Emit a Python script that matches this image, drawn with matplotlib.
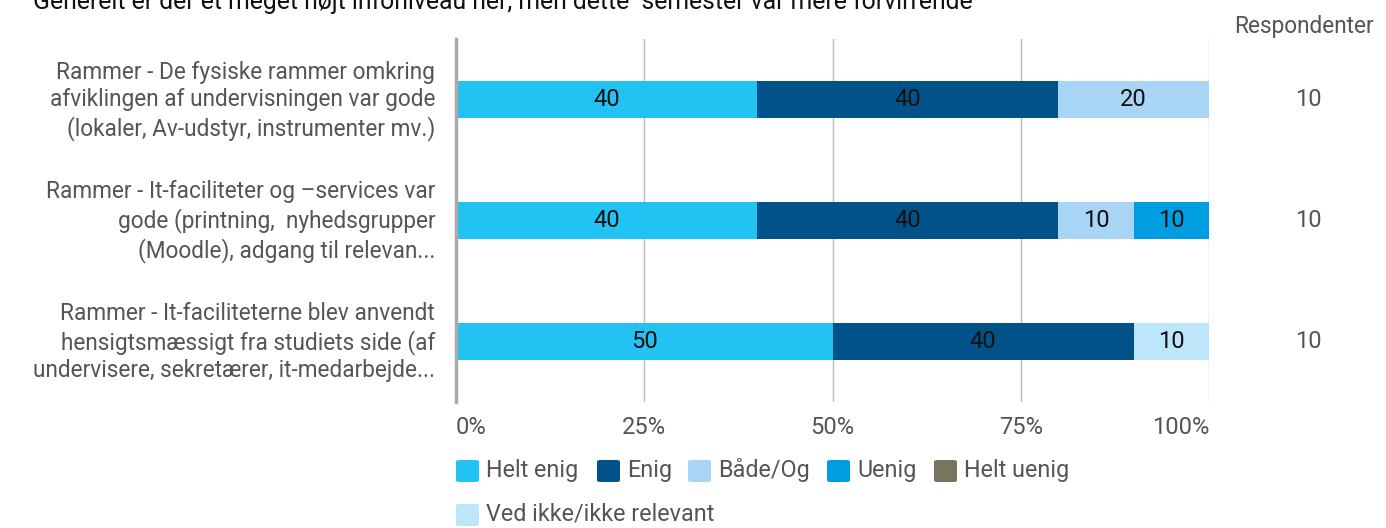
import matplotlib.pyplot as plt
import matplotlib.transforms as mtransforms
from matplotlib.patches import FancyBboxPatch
import numpy as np

plt.rcParams['font.family'] = ['Roboto', 'DejaVu Sans']

title = "Generelt er der et meget højt infoniveau her, men dette  semester var mere forvirrende"
questions = [
    "Rammer - De fysiske rammer omkring\nafviklingen af undervisningen var gode\n(lokaler, Av-udstyr, instrumenter mv.)",
    "Rammer - It-faciliteter og \u2013services var\ngode (printning,  nyhedsgrupper\n(Moodle), adgang til relevan...",
    "Rammer - It-faciliteterne blev anvendt\nhensigtsmæssigt fra studiets side (af\nundervisere, sekretærer, it-medarbejde...",
]
categories = ["Helt enig", "Enig", "Både/Og", "Uenig", "Helt uenig", "Ved ikke/ikke relevant"]
helt_enig = [40, 40, 50]
enig = [40, 40, 40]
baade_og = [20, 10, 0]
uenig = [0, 10, 0]
helt_uenig = [0, 0, 0]
ved_ikke = [0, 0, 10]
respondents = [10, 10, 10]
tick_labels = ["0%", "25%", "50%", "75%", "100%"]

colors = ["#22c3f3", "#005288", "#a9d5f5", "#009ee0", "#77755f", "#bde6fa"]
series = [helt_enig, enig, baade_og, uenig, helt_uenig, ved_ikke]

fig = plt.figure(figsize=(13.86, 5.28), dpi=100)
ax = fig.add_axes([456 / 1386, 1 - 402 / 528, (1209 - 456) / 1386, 363 / 528])

y = np.arange(len(questions))
left = np.zeros(len(questions))
for vals, col in zip(series, colors):
    vals = np.array(vals, dtype=float)
    ax.barh(y, vals, left=left, height=0.3, color=col, zorder=3)
    for yi, (l, v) in enumerate(zip(left, vals)):
        if v > 0:
            ax.text(l + v / 2, yi, f"{int(v)}", ha='center', va='center',
                    fontsize=17, color='#111111', zorder=4)
    left += vals

ax.set_xlim(0, 100)
ax.set_ylim(2.5, -0.5)
ax.set_xticks([0, 25, 50, 75, 100])
ax.set_xticklabels(tick_labels, fontsize=17, color='#555555')
ax.tick_params(axis='x', length=0, pad=10)
xt = ax.get_xticklabels()
xt[0].set_horizontalalignment('left')
xt[-1].set_horizontalalignment('right')
xt[-1].set_x(100.4)
ax.set_yticks(y)
ax.set_yticklabels(questions, fontsize=16.3, color='#555555', linespacing=1.25)
ax.tick_params(axis='y', length=0, pad=15)
# nudge the question labels up a little
shift = mtransforms.ScaledTranslation(0, 4 / 100, fig.dpi_scale_trans)
for t in ax.get_yticklabels():
    t.set_transform(t.get_transform() + shift)
for s in ['top', 'right', 'bottom']:
    ax.spines[s].set_visible(False)
ax.spines['left'].set_color('#aaaaaa')
ax.spines['left'].set_linewidth(2.5)
ax.spines['left'].set_zorder(5)
for xg in [25, 50, 75, 100]:
    ax.axvline(xg, color='#bbbbbb', lw=1, zorder=1)

# respondent column
trans = mtransforms.blended_transform_factory(fig.transFigure, ax.transData)
for yi, r in enumerate(respondents):
    ax.text(1308 / 1386, yi, str(r), transform=trans, ha='center', va='center',
            fontsize=17, color='#555555')
fig.text(1304 / 1386, 1 - 27 / 528, "Respondenter", ha='center', va='center',
         fontsize=16.3, color='#555555')

fig.text(33 / 1386, 1 - 9 / 528, title, ha='left', va='baseline',
         fontsize=17.8, color='#111111')

# legend drawn by hand: two rows
legend_pos = [(456, 471), (597, 471), (688, 471), (827, 471), (934, 471), (456, 515)]
for (px, py), lab, col in zip(legend_pos, categories, colors):
    sq = FancyBboxPatch((px / 1386, 1 - (py + 11) / 528), 23 / 1386, 22 / 528,
                        boxstyle="round,pad=0,rounding_size=0.003",
                        transform=fig.transFigure, facecolor=col, edgecolor='none')
    fig.patches.append(sq)
    fig.text((px + 30) / 1386, 1 - (py - 1) / 528, lab, ha='left', va='center',
             fontsize=16.8, color='#555555')

fig.savefig("out.png", dpi=100)
